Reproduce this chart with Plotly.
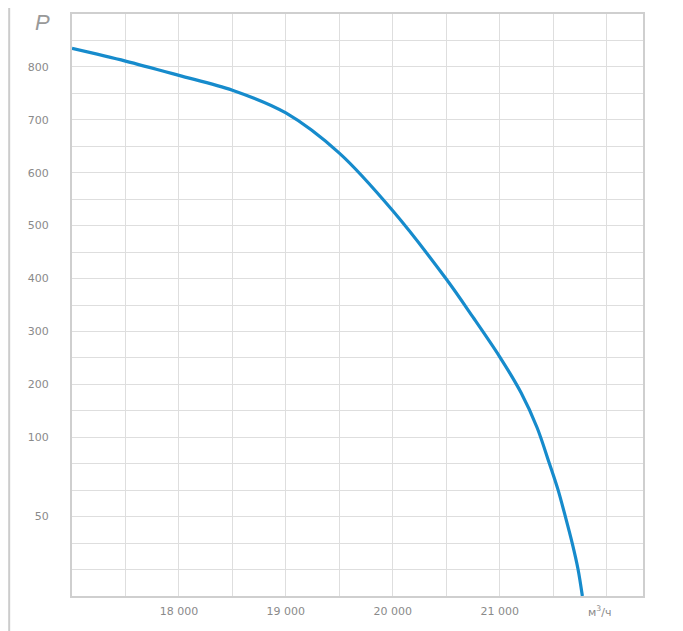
import plotly.graph_objects as go

# Fan curve: air flow (m3/h) vs pressure P
flow = [17000, 17500, 18000, 18500, 19000, 19500, 20000, 20500, 20750,
        21000, 21200, 21350, 21467, 21545, 21614, 21679, 21732, 21773]
pressure = [835, 811, 784, 756, 713, 637, 528, 399, 327,
            252, 184, 118, 83, 67, 50, 33, 17, 0]

p_ticks = [50, 100, 200, 300, 400, 500, 600, 700, 800]
flow_ticks = [18000, 19000, 20000, 21000]
flow_tick_text = ["18 000", "19 000", "20 000", "21 000"]


# the chart's P axis is linear above 100 and stretched 3x below it
def p_axis(p):
    return p if p >= 100 else 100 - 3 * (100 - p)


grid = "#dedede"
label_col = "#8a8a8a"

fig = go.Figure()
fig.add_trace(go.Scatter(
    x=flow, y=[p_axis(p) for p in pressure],
    mode="lines", line=dict(color="#168bcc", width=3.2, shape="spline", smoothing=0.9),
    hoverinfo="skip", showlegend=False,
))

# page body has an 8px margin, so the figure is 8px smaller and shifted
fig.update_layout(
    width=675, height=623,
    margin=dict(l=64, r=40, t=6, b=35),
    paper_bgcolor="white", plot_bgcolor="white",
    font=dict(family="DejaVu Sans, sans-serif", size=11, color=label_col),
    xaxis=dict(
        range=[17000, 22340], tickvals=flow_ticks, ticktext=flow_tick_text,
        showgrid=True, gridcolor=grid, gridwidth=1.3,
        minor=dict(dtick=500, tick0=17000, showgrid=True, gridcolor=grid, gridwidth=1.3),
        showline=True, linecolor="#cfcfcf", linewidth=2, mirror=True,
        ticks="", ticklabelstandoff=4, zeroline=False, automargin=False,
    ),
    yaxis=dict(
        range=[-200, 900], tickvals=[p_axis(p) for p in p_ticks], ticktext=[str(p) for p in p_ticks],
        showgrid=True, gridcolor=grid, gridwidth=1.3,
        minor=dict(dtick=50, tick0=0, showgrid=True, gridcolor=grid, gridwidth=1.3),
        showline=True, linecolor="#cfcfcf", linewidth=2, mirror=True,
        ticks="", ticklabelstandoff=19, zeroline=False, automargin=False,
    ),
    shapes=[dict(type="line", xref="paper", yref="paper", x0=-0.11, x1=-0.11, y0=-0.07, y1=1.03,
                 line=dict(color="#cccccc", width=2))],
    annotations=[
        dict(text="<i>P</i>", xref="paper", yref="paper", x=-0.052, y=0.986, xanchor="center", yanchor="middle",
             showarrow=False, font=dict(family="Liberation Sans, Arial, sans-serif", size=22, color="#999999")),
        dict(text="м<sup>3</sup>/ч", xref="x", yref="paper", x=21930, y=-0.01, xanchor="center", yanchor="top",
             showarrow=False, font=dict(size=11, color=label_col)),
    ],
)

fig.write_html("out.html")
